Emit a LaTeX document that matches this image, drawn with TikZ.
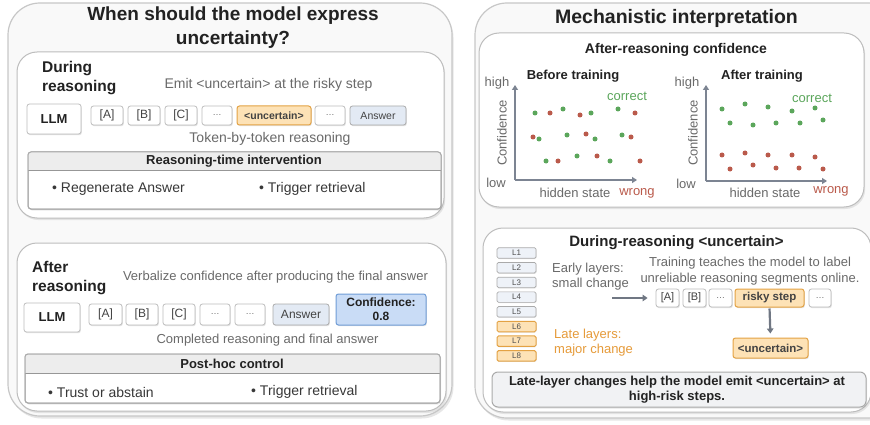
\documentclass[tikz,border=0pt]{standalone}
\usepackage{fontspec}
\setmainfont{Liberation Sans}
\usetikzlibrary{shadows,arrows.meta}
\definecolor{ink}{HTML}{222222}
\definecolor{soft}{HTML}{6A6A6A}
\definecolor{rim}{HTML}{BDBDBD}
\definecolor{panelbg}{HTML}{F9F9F9}
\definecolor{orfill}{HTML}{FDE2B6}
\definecolor{ordraw}{HTML}{E3A244}
\definecolor{ansfill}{HTML}{E3EAF4}
\definecolor{conffill}{HTML}{C9DCF6}
\definecolor{confdraw}{HTML}{6F9CD6}
\definecolor{hdrfill}{HTML}{EDEDED}
\definecolor{axisgray}{HTML}{7C8492}
\definecolor{okgreen}{HTML}{5BA65B}
\definecolor{badred}{HTML}{BA5A4B}
\definecolor{lateor}{HTML}{E69B3A}
\definecolor{notefill}{HTML}{F1F2F4}
\newcommand\fs[1]{\fontsize{#1}{#1}\selectfont}
\begin{document}
\begin{tikzpicture}[x=1pt,y=-1pt,
  outerpanel/.style={draw=rim!85, line width=1.2pt, fill=panelbg, rounded corners=32pt,
    drop shadow={shadow xshift=1.5pt,shadow yshift=-2.5pt,opacity=.2}},
  innerpanel/.style={draw=rim, line width=1pt, fill=white, rounded corners=20pt,
    drop shadow={shadow xshift=1.2pt,shadow yshift=-2pt,opacity=.18}},
  tok/.style={draw=rim, line width=.8pt, fill=white, rounded corners=2.5pt, inner sep=0pt,
    minimum height=19pt, text=ink!85, font=\fs{12},
    drop shadow={shadow xshift=.8pt,shadow yshift=-1.2pt,opacity=.22}},
  dots/.style={tok, text=soft, font=\fs{9}},
  hot/.style={tok, fill=orfill, draw=ordraw, line width=1pt, font=\bfseries\fs{10.5}},
  ans/.style={tok, fill=ansfill, draw=rim!90!black, font=\fs{10.5}},
  llm/.style={tok, minimum height=30pt, font=\bfseries\fs{13}, text=ink},
  layer/.style={draw=rim!90!black, line width=.7pt, fill=ansfill!60, rounded corners=1.5pt,
    minimum width=39pt, minimum height=10.5pt, inner sep=0pt, font=\fs{8}, text=ink!80,
    drop shadow={shadow xshift=.6pt,shadow yshift=-.8pt,opacity=.2}},
  hotlayer/.style={layer, fill=orfill, draw=ordraw, line width=1pt},
  heading/.style={font=\bfseries\fs{19}, text=ink, inner sep=0pt, align=center},
  subhead/.style={font=\bfseries\fs{15.5}, text=ink, inner sep=0pt, align=left},
  note/.style={font=\fs{14}, text=soft, inner sep=0pt},
  plotlab/.style={font=\fs{13}, text=soft, inner sep=0pt},
  axisline/.style={draw=axisgray, line width=2.2pt, -{Triangle[length=5pt,width=6pt]}},
  flow/.style={draw=axisgray!90!black, line width=2.2pt, -{Triangle[length=5pt,width=6.5pt]}},
  gdot/.style={fill=okgreen, draw=none},
  rdot/.style={fill=badred, draw=none},
  tablebox/.style={draw=rim!90!black, line width=1pt, fill=white, rounded corners=3pt,
    drop shadow={shadow xshift=1pt,shadow yshift=-1.5pt,opacity=.15}}]

\useasboundingbox (0,0) rectangle (870,425);

% ---------------- left column ----------------
\path[outerpanel] (8,3) rectangle (452,416);
\node[heading, font=\bfseries\fontsize{19}{24}\selectfont] (ltitle) at (233,28)
  {When should the model express\\uncertainty?};

% during reasoning
\path[innerpanel] (17,52) rectangle (444,218);
\node[subhead, font=\bfseries\fontsize{15.5}{19}\selectfont, anchor=west] (dr) at (42,78.5) {During\\reasoning};
\node[note] (emit) at (268.5,85) {Emit <uncertain> at the risky step};
\node[llm, minimum width=54pt] (llm1) at (54,119) {LLM};
\node[tok, minimum width=32pt] (a1) at (107,115.5) {[A]};
\node[tok, minimum width=32pt] (b1) at (144,115.5) {[B]};
\node[tok, minimum width=32pt] (c1) at (181,115.5) {[C]};
\node[dots, minimum width=30pt] (d1) at (217,115.5) {…};
\node[hot, minimum width=74pt] (u1) at (274,115.5) {<uncertain>};
\node[dots, minimum width=30pt] (e1) at (330,115.5) {…};
\node[ans, minimum width=56pt] (ans1) at (378,115.5) {Answer};
\node[note] (tbt) at (270,139) {Token-by-token reasoning};
% intervention table
\path[tablebox] (28,152) rectangle (441,209);
\begin{scope}
  \clip[rounded corners=3pt] (28,152) rectangle (441,209);
  \fill[hdrfill] (28,152) rectangle (441,170);
\end{scope}
\draw[rim!80!black, line width=1pt] (28,170) -- (441,170);
\draw[rim!90!black, line width=1pt, rounded corners=3pt] (28,152) rectangle (441,209);
\node[font=\bfseries\fs{13}, text=ink, inner sep=0pt] (rti) at (234,161) {Reasoning-time intervention};
\node[note, text=ink!90, anchor=west] (regen) at (52,189) {• Regenerate Answer};
\node[note, text=ink!90, anchor=west] (trig1) at (259,189) {• Trigger retrieval};

% after reasoning
\path[innerpanel] (17,243) rectangle (446,411);
\node[subhead, font=\bfseries\fontsize{15.5}{19}\selectfont, anchor=west] (ar) at (32,278.5) {After\\reasoning};
\node[note, font=\fs{13}] (verb) at (275.5,277) {Verbalize confidence after producing the final answer};
\node[llm, minimum width=56pt, minimum height=29pt] (llm2) at (52,317.5) {LLM};
\node[tok, minimum width=33pt, minimum height=21pt] (a2) at (105.5,314.5) {[A]};
\node[tok, minimum width=32pt, minimum height=21pt] (b2) at (142,314.5) {[B]};
\node[tok, minimum width=32pt, minimum height=21pt] (c2) at (179,314.5) {[C]};
\node[dots, minimum width=30pt, minimum height=21pt] (d2) at (215,314.5) {…};
\node[dots, minimum width=30pt, minimum height=21pt] (e2) at (250,314.5) {…};
\node[ans, minimum width=56pt, minimum height=21pt, font=\fs{12}] (ans2) at (301,314.5) {Answer};
\node[tok, fill=conffill, draw=confdraw, line width=1pt, minimum width=90pt, minimum height=31pt,
  align=center, font=\bfseries\fontsize{12}{14}\selectfont, text=ink] (conf) at (381,309.5) {Confidence:\\0.8};
\node[note, font=\fs{13}] (done) at (267.5,340) {Completed reasoning and final answer};
% post-hoc table
\path[tablebox] (25,354) rectangle (440,403);
\begin{scope}
  \clip[rounded corners=3pt] (25,354) rectangle (440,403);
  \fill[hdrfill] (25,354) rectangle (440,373);
\end{scope}
\draw[rim!80!black, line width=1pt] (25,373) -- (440,373);
\draw[rim!90!black, line width=1pt, rounded corners=3pt] (25,354) rectangle (440,403);
\node[font=\bfseries\fs{13}, text=ink, inner sep=0pt] (phc) at (232,364) {Post-hoc control};
\node[note, text=ink!90, anchor=west] (trust) at (48,392) {• Trust or abstain};
\node[note, text=ink!90, anchor=west] (trig2) at (251,392) {• Trigger retrieval};

% ---------------- right column ----------------
\path[outerpanel] (475,3) rectangle (900,418);
\node[heading, font=\bfseries\fs{19.5}] (rtitle) at (676.5,18) {Mechanistic interpretation};

% after-reasoning confidence
\path[innerpanel] (479,33) rectangle (864,207);
\node[font=\bfseries\fs{14}, text=ink, inner sep=0pt] (arc) at (676,50) {After-reasoning confidence};

% plot before training
\node[font=\bfseries\fs{13}, text=ink, inner sep=0pt] (bt) at (573,76) {Before training};
\coordinate (o1) at (515,180);
\coordinate (y1) at (515,85);
\coordinate (x1) at (637,180);
\draw[axisline] (o1) -- (y1);
\draw[axisline] (o1) -- (x1);
\node[plotlab] (hi1) at (497,83) {high};
\node[plotlab] (lo1) at (496,183) {low};
\node[plotlab, rotate=90] (cf1) at (502,133) {Confidence};
\node[plotlab] (hs1) at (575,193) {hidden state};
\node[plotlab, text=badred] (wr1) at (637,193) {wrong};
\node[plotlab, text=okgreen] (co1) at (627,96) {correct};
\foreach \px/\py in {535/113,563/109,591/113,618/109,539/139,567/135,595/139,622/135,546/161,577/156,610/161}
  \fill[gdot] (\px,\py) circle (2.5pt);
\foreach \px/\py in {550/113,580/115,635/113,533/137,586/134,631/137,558/161,597/156,640/161}
  \fill[rdot] (\px,\py) circle (2.5pt);

% plot after training
\node[font=\bfseries\fs{13}, text=ink, inner sep=0pt] (at) at (762,76) {After training};
\coordinate (o2) at (706,181);
\coordinate (y2) at (706,85);
\coordinate (x2) at (827,181);
\draw[axisline] (o2) -- (y2);
\draw[axisline] (o2) -- (x2);
\node[plotlab] (hi2) at (687,83) {high};
\node[plotlab] (lo2) at (686,184) {low};
\node[plotlab, rotate=90] (cf2) at (693,133) {Confidence};
\node[plotlab] (hs2) at (765,193) {hidden state};
\node[plotlab, text=badred] (wr2) at (831,191) {wrong};
\node[plotlab, text=okgreen] (co2) at (812,98) {correct};
\foreach \px/\py in {722/109,745/104,768/107,792/111,815/108,730/123,753/125,776/123,800/123,823/120}
  \fill[gdot] (\px,\py) circle (2.5pt);
\foreach \px/\py in {722/155,745/153,768/155,792/155,815/157,730/169,753/165,776/168,799/168,823/169}
  \fill[rdot] (\px,\py) circle (2.5pt);

% during-reasoning <uncertain>
\path[innerpanel] (483,228) rectangle (871,412);
\node[font=\bfseries\fs{15}, text=ink, inner sep=0pt] (drt) at (676.5,243) {During-reasoning <uncertain>};
\foreach \i in {1,...,5}
  \node[layer] (L\i) at (516.5,{253+14.7*(\i-1)}) {L\i};
\foreach \i in {6,7,8}
  \node[hotlayer] (L\i) at (516.5,{253+14.7*(\i-1)}) {L\i};
\node[plotlab, align=left, anchor=west, font=\fontsize{13}{15}\selectfont] (early) at (552,276.5) {Early layers:\\small change};
\node[plotlab, align=left, anchor=west, text=lateor, font=\fontsize{13}{15}\selectfont] (late) at (554,343) {Late layers:\\major change};
\node[plotlab, align=center, font=\fontsize{13}{16}\selectfont] (teach) at (750,271)
  {Training teaches the model to label\\unreliable reasoning segments online.};
\node[tok, minimum width=23pt, minimum height=18pt, font=\fs{11}] (a4) at (667.5,298) {[A]};
\node[tok, minimum width=23pt, minimum height=18pt, font=\fs{11}] (b4) at (694.5,298) {[B]};
\node[dots, minimum width=23pt, minimum height=18pt] (d4) at (720.5,298) {…};
\node[hot, minimum width=69pt, minimum height=18pt, font=\bfseries\fs{11.5}] (risky) at (769.5,298) {risky step};
\node[dots, minimum width=22pt, minimum height=18pt] (e4) at (820,298) {…};
\node[hot, minimum width=75pt, minimum height=20pt, font=\bfseries\fs{11.5}] (unc4) at (770.5,348) {<uncertain>};
\coordinate (flowstart) at (612,298);
\draw[flow, shorten >=8pt] (flowstart) -- (a4.west);
\draw[flow, shorten <=1pt, shorten >=4pt] (risky.south) -- (unc4.north);
\path[draw=rim!90!black, line width=1pt, fill=notefill, rounded corners=6pt,
  drop shadow={shadow xshift=1pt,shadow yshift=-1.5pt,opacity=.2}] (492,372) rectangle (866,407);
\node[font=\bfseries\fontsize{13}{15}\selectfont, text=ink, align=center, inner sep=0pt] (summary) at (677,389.5)
  {Late-layer changes help the model emit <uncertain> at\\high-risk steps.};
\end{tikzpicture}
\end{document}
